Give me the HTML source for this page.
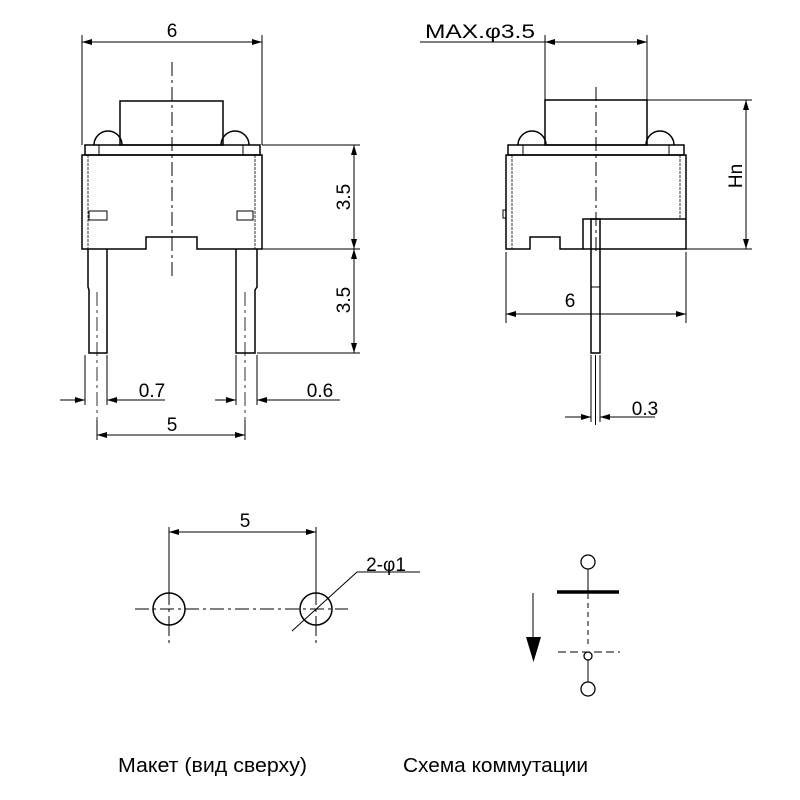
<!DOCTYPE html>
<html><head><meta charset="utf-8"><style>html,body{margin:0;padding:0;background:#fff}svg{display:block}</style></head>
<body>
<svg width="800" height="800" viewBox="0 0 800 800" xmlns="http://www.w3.org/2000/svg" font-family="Liberation Sans, sans-serif">
<defs>
<marker id="a" viewBox="0 0 10 6" refX="10" refY="3" markerWidth="10" markerHeight="6" orient="auto-start-reverse" markerUnits="userSpaceOnUse"><path d="M0,0 L10,3 L0,6 z" fill="#000"/></marker>
</defs>
<g stroke="#000" fill="none" stroke-width="1">
<rect x="120" y="101" width="103" height="44" stroke-width="1.5"/>
<path d="M94,145 A14,14 0 0 1 122,145 M221,145 A14,14 0 0 1 249,145" stroke-width="1.5"/>
<rect x="85" y="145" width="175" height="10" stroke-width="1.5"/>
<path d="M99,145 V155 M243,145 V155"/>
<path d="M82,155 H262 V249 H197 V237 H146 V249 H82 Z" stroke-width="1.5"/>
<path d="M88,155 V249 M255,155 V249" stroke-dasharray="3,1" stroke-width="0.8"/>
<rect x="89" y="211" width="18" height="9"/>
<rect x="237" y="211" width="16" height="9"/>
<path d="M88,249 V287 L89,290 V353 H107 V249" stroke-width="1.5"/>
<path d="M236,249 V353 H255 V290 L257,287 V249" stroke-width="1.5"/>
<path d="M172,62 V280" stroke-dasharray="14,4,3,4"/>
<path d="M97,292 V420 M245,292 V420" stroke-dasharray="14,4,3,4" stroke-width="0.8"/>
<path d="M82,35 V145 M262,35 V145"/>
<path d="M82,42 H262" marker-start="url(#a)" marker-end="url(#a)"/>
<path d="M262,145 H360 M262,249 H360 M257,353 H360"/>
<path d="M354,145 V249" marker-start="url(#a)" marker-end="url(#a)"/>
<path d="M354,249 V353" marker-start="url(#a)" marker-end="url(#a)"/>
<path d="M85,355 V405 M107,355 V405 M236,355 V405 M257,355 V405"/>
<path d="M60,400 H85" marker-end="url(#a)"/><path d="M165,400 H107" marker-end="url(#a)"/>
<path d="M215,400 H236" marker-end="url(#a)"/><path d="M340,400 H257" marker-end="url(#a)"/>
<path d="M97,420 V440 M245,420 V440"/>
<path d="M97,435 H245" marker-start="url(#a)" marker-end="url(#a)"/>
<rect x="545" y="100" width="102" height="45" stroke-width="1.5"/>
<path d="M518,145 A14,14 0 0 1 546,145 M646,145 A14,14 0 0 1 674,145" stroke-width="1.5"/>
<rect x="508" y="145" width="176" height="10" stroke-width="1.5"/>
<path d="M523,145 V155 M669,145 V155"/>
<path d="M506,155 H686 V249 H560 V237 H530 V249 H506 Z" stroke-width="1.5"/>
<path d="M512,155 V249 M680,155 V219" stroke-dasharray="3,1" stroke-width="0.8"/>
<path d="M686,219 H583 V249" stroke-width="1.5"/>
<rect x="591" y="219" width="9" height="134" stroke-width="1.5"/>
<path d="M591,287 H600"/>
<rect x="503" y="210" width="3" height="8"/>
<path d="M596,87 V253" stroke-dasharray="14,4,3,4"/>
<path d="M595.5,355 V425"/>
<path d="M420,42 H545 M545,35 V100 M647,35 V100"/>
<path d="M545,42 H647" marker-start="url(#a)" marker-end="url(#a)"/>
<path d="M647,100 H752 M686,249 H752"/>
<path d="M746,100 V249" marker-start="url(#a)" marker-end="url(#a)"/>
<path d="M506,252 V323 M686,252 V323"/>
<path d="M506,314 H686" marker-start="url(#a)" marker-end="url(#a)"/>
<path d="M591,355 V422 M600,355 V422"/>
<path d="M565,417 H591" marker-end="url(#a)"/><path d="M655,417 H600" marker-end="url(#a)"/>
<circle cx="169" cy="609" r="16" stroke-width="1.5"/>
<circle cx="316" cy="609" r="16" stroke-width="1.5"/>
<path d="M135,609 H348" stroke-dasharray="14,4,3,4"/>
<path d="M169,585 V645 M316,585 V645" stroke-dasharray="20,4,3,4"/>
<path d="M169,527 V585 M316,527 V585"/>
<path d="M169,532 H316" marker-start="url(#a)" marker-end="url(#a)"/>
<path d="M292,631 L357,572 H420"/>
<circle cx="588" cy="562" r="7" stroke-width="1.3"/>
<path d="M588,569 V592"/>
<path d="M557,592 H619" stroke-width="3.5"/>
<path d="M588,594 V648" stroke-dasharray="5,4"/>
<path d="M558,652 H620" stroke-dasharray="8,4"/>
<circle cx="588" cy="656" r="4" stroke-width="1.3"/>
<path d="M588,660 V682"/>
<circle cx="588" cy="689" r="7" stroke-width="1.3"/>
<path d="M533,593 V640"/>
</g>
<path d="M526,637 H541 L533.5,662 Z" fill="#000"/>
<g font-size="19" fill="#000" text-anchor="middle">
<text x="172" y="37">6</text>
<text x="152" y="397">0.7</text>
<text x="320" y="397">0.6</text>
<text x="172" y="431">5</text>
<text transform="translate(350,197) rotate(-90)">3.5</text>
<text transform="translate(350,300) rotate(-90)">3.5</text>
<text x="480" y="38" textLength="110" lengthAdjust="spacingAndGlyphs">MAX.φ3.5</text>
<text transform="translate(742,176) rotate(-90)">Hn</text>
<text x="570" y="307">6</text>
<text x="645" y="415">0.3</text>
<text x="245" y="527">5</text>
<text x="386" y="571">2-φ1</text>
</g>
<g font-size="20" fill="#000" font-family="Liberation Sans, DejaVu Sans, sans-serif">
<text x="118" y="772" textLength="189" lengthAdjust="spacingAndGlyphs">Макет (вид сверху)</text>
<text x="403" y="772" textLength="185" lengthAdjust="spacingAndGlyphs">Схема коммутации</text>
</g>
</svg>
</body></html>
